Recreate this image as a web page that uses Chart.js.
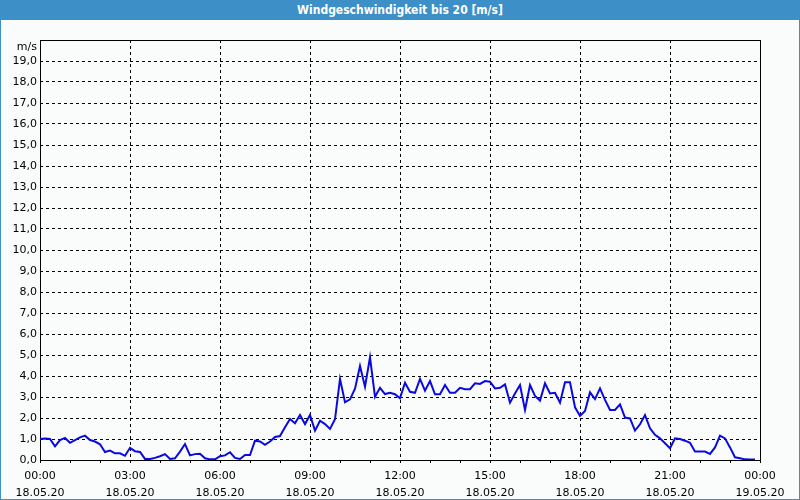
<!DOCTYPE html>
<html>
<head>
<meta charset="utf-8">
<script src="https://cdn.jsdelivr.net/npm/chart.js@4/dist/chart.umd.min.js"></script>
<style>
  html, body { margin: 0; padding: 0; background: #fafcfc; }
  #frame {
    width: 800px; height: 500px; box-sizing: border-box;
    border: 1px solid #3d8fc7; border-top: none; position: relative;
    background: #fafcfc;
  }
  #titlebar {
    height: 20px; background: #3d8fc7; color: #fff; margin: 0 -1px;
    font: bold 12px "Liberation Sans Narrow", "DejaVu Sans Condensed", "Liberation Sans", sans-serif;
    text-align: center; line-height: 20px;
  }
  #wrap { width: 798px; height: 479px; }
</style>
</head>
<body>
<div id="frame">
  <div id="titlebar">Windgeschwindigkeit bis 20 [m/s]</div>
  <div id="wrap"><canvas id="windChart" width="798" height="479"></canvas></div>
</div>
<script>
// wind speed [m/s], one value every 10 minutes starting 18.05.20 00:00
const speed = [
  1.00, 1.02, 1.00, 0.65, 0.95, 1.05, 0.82, 0.95, 1.08, 1.16, 0.95, 0.88,
  0.75, 0.38, 0.45, 0.32, 0.32, 0.20, 0.58, 0.42, 0.38, 0.05, 0.05, 0.10,
  0.18, 0.28, 0.05, 0.08, 0.40, 0.76, 0.22, 0.28, 0.30, 0.08, 0.03, 0.03,
  0.18, 0.22, 0.37, 0.10, 0.05, 0.24, 0.24, 0.92, 0.88, 0.72, 0.88, 1.10,
  1.14, 1.56, 1.95, 1.75, 2.14, 1.71, 2.14, 1.40, 1.87, 1.71, 1.48, 1.94,
  3.86, 2.75, 2.89, 3.40, 4.48, 3.49, 4.89, 3.01, 3.44, 3.14, 3.20, 3.13,
  2.94, 3.68, 3.25, 3.20, 3.86, 3.30, 3.76, 3.13, 3.13, 3.57, 3.20, 3.20,
  3.44, 3.37, 3.37, 3.65, 3.62, 3.76, 3.73, 3.41, 3.44, 3.60, 2.73, 3.17,
  3.57, 2.38, 3.57, 3.05, 2.83, 3.65, 3.17, 3.20, 2.73, 3.70, 3.70, 2.51,
  2.10, 2.33, 3.22, 2.90, 3.41, 2.86, 2.38, 2.38, 2.65, 2.02, 1.98, 1.40,
  1.70, 2.14, 1.51, 1.20, 1.03, 0.80, 0.56, 1.03, 1.00, 0.92, 0.82, 0.40,
  0.40, 0.40, 0.29, 0.60, 1.16, 1.03, 0.60, 0.13, 0.08, 0.03, 0.02, 0.02
];
const stepMinutes = 10;

// x axis labels (every 3 hours)
const tickTimes = ['00:00', '03:00', '06:00', '09:00', '12:00', '15:00', '18:00', '21:00', '00:00'];
const tickDates = ['18.05.20', '18.05.20', '18.05.20', '18.05.20', '18.05.20', '18.05.20', '18.05.20', '18.05.20', '19.05.20'];

const points = speed.map((v, i) => ({ x: i * stepMinutes, y: v }));
const font = { family: '"DejaVu Sans", sans-serif', size: 11, lineHeight: 1.5 };

// solid frame round the plot and the "m/s" unit label
const framePlugin = {
  id: 'frame',
  beforeDatasetsDraw(chart) {
    const a = chart.chartArea;
    const ctx = chart.ctx;
    ctx.save();
    ctx.strokeStyle = '#000';
    ctx.lineWidth = 1;
    ctx.setLineDash([]);
    ctx.strokeRect(Math.round(a.left) + 0.5, Math.round(a.top) + 0.5,
      Math.round(a.right - a.left), Math.round(a.bottom - a.top));
    ctx.fillStyle = '#000';
    ctx.font = '11px "DejaVu Sans", sans-serif';
    ctx.textAlign = 'right';
    ctx.textBaseline = 'middle';
    ctx.fillText('m/s', a.left - 3, a.top + 7);
    ctx.restore();
  }
};

new Chart(document.getElementById('windChart'), {
  type: 'line',
  data: {
    datasets: [{
      data: points,
      borderColor: '#0a0ae0',
      borderWidth: 2,
      pointRadius: 0,
      tension: 0,
      fill: false
    }]
  },
  options: {
    responsive: false,
    animation: false,
    layout: { padding: { top: 20, right: 39, left: 0, bottom: 0 } },
    plugins: { legend: { display: false }, tooltip: { enabled: false } },
    scales: {
      x: {
        type: 'linear',
        min: 0,
        max: 1440,
        afterFit(scale) { scale.height = 39; },
        ticks: {
          stepSize: 60,
          autoSkip: false,
          maxRotation: 0,
          padding: 5,
          color: '#000',
          font: font,
          callback(value) {
            if (value % 180 !== 0) return '';
            const k = value / 180;
            return [tickTimes[k], tickDates[k]];
          }
        },
        grid: {
          color: ctx => (ctx.tick && ctx.tick.value % 180 === 0) ? '#000' : 'rgba(0,0,0,0)',
          tickColor: '#000',
          tickLength: 3,
          lineWidth: 1
        },
        border: { display: false, dash: [3, 3] }
      },
      y: {
        min: 0,
        max: 20,
        afterFit(scale) { scale.width = 39; },
        ticks: {
          stepSize: 1,
          padding: 3,
          color: '#000',
          font: { family: '"DejaVu Sans", sans-serif', size: 11 },
          callback(value) {
            if (value === 20) return '';
            return value.toFixed(1).replace('.', ',');
          }
        },
        grid: { color: '#000', drawTicks: false, lineWidth: 1 },
        border: { display: false, dash: [3, 3] }
      }
    }
  },
  plugins: [framePlugin]
});
</script>
</body>
</html>
